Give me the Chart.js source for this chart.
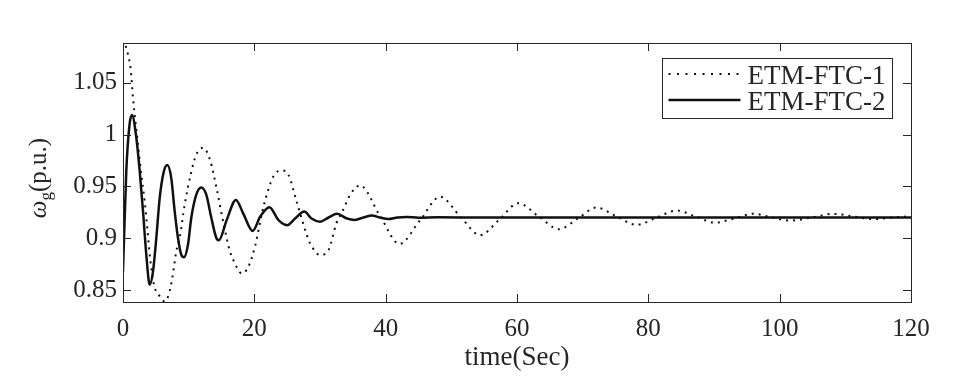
<!DOCTYPE html>
<html>
<head>
<meta charset="utf-8">
<script src="https://cdn.jsdelivr.net/npm/chart.js@4"></script>
<style>
  html, body { margin: 0; padding: 0; background: #ffffff; }
  #wrap { width: 977px; height: 380px; }
</style>
</head>
<body>
<div id="wrap"><canvas id="c" width="977" height="380"></canvas></div>
<script>
// ---- Data ----
const seriesNames = ['ETM-FTC-1', 'ETM-FTC-2'];

// ETM-FTC-1 (dotted)
const timeFTC1 = [0, 0.35, 0.76, 1.17, 1.52, 2.28, 2.79, 3.3, 3.7, 4.07, 4.72, 5.59, 6.35, 6.96, 7.51, 8.12, 8.63, 9.4, 10.31, 11.16, 12.2,
  13.25, 14.3, 15.3, 16.3, 16.8, 18.1, 19.1, 20.1, 21.4, 22.9, 24.2, 25.2, 26.5, 28.0, 28.5, 30.0, 31.3, 32.5, 33.5, 34.6, 36.1,
  39.1, 42.1, 45.2, 48.3, 51.35, 54.4, 57.3, 60.2, 63.3, 66.4, 69.25, 72.1, 75.15, 78.2, 81.25, 84.3, 87.2, 90.1, 93.05, 96.0,
  98.8, 101.6, 104.9, 108.2, 111.25, 114.3, 117.2, 120];
const omegaFTC1 = [1.092, 1.0866, 1.0776, 1.063, 1.0357, 0.9905, 0.9615, 0.9358, 0.910, 0.884, 0.855, 0.844, 0.839, 0.8455, 0.8616, 0.8874, 0.9003, 0.9325, 0.9615, 0.9808, 0.9873,
  0.9757, 0.9467, 0.9145, 0.887, 0.879, 0.866, 0.8725, 0.892, 0.9306, 0.9596, 0.9654, 0.9612, 0.934, 0.903, 0.895, 0.8838, 0.8887, 0.9145, 0.927, 0.942, 0.951,
  0.922, 0.8945, 0.917, 0.940, 0.921, 0.903, 0.918, 0.9338, 0.921, 0.9087, 0.919, 0.9296, 0.921, 0.9129, 0.920, 0.9267, 0.921, 0.915, 0.919, 0.9236,
  0.920, 0.917, 0.920, 0.9235, 0.921, 0.9184, 0.920, 0.9212];

// ETM-FTC-2 (solid)
const timeFTC2 = [0, 0.5, 1.0, 1.37, 2.03, 2.54, 3.05, 3.55, 4.07, 4.57, 5.07, 5.59, 6.2, 6.75, 7.35, 7.87, 8.38, 8.88, 9.29, 9.9, 10.4, 11.16, 11.92,
  12.68, 13.45, 14.2, 14.6, 15.8, 17.2, 18.3, 19.75, 20.9, 22.3, 23.65, 25.0, 26.2, 27.6, 28.7, 30.0, 31.3, 32.6, 34.1, 35.3, 36.6,
  37.9, 39.1, 40.4, 41.8, 43.2, 45, 48, 55, 120];
const omegaFTC2 = [0.868, 0.965, 1.01, 1.019, 0.997, 0.965, 0.926, 0.884, 0.855, 0.868, 0.900, 0.939, 0.964, 0.9706, 0.958, 0.926, 0.900, 0.884, 0.8816, 0.894, 0.9197, 0.942, 0.949,
  0.942, 0.9197, 0.9005, 0.898, 0.9177, 0.937, 0.924, 0.907, 0.921, 0.930, 0.9177, 0.9126, 0.919, 0.9257, 0.919, 0.916, 0.920, 0.9235, 0.919, 0.9177, 0.920,
  0.922, 0.920, 0.9185, 0.920, 0.9205, 0.9198, 0.9202, 0.920, 0.920];

const xTickValues = [0, 20, 40, 60, 80, 100, 120];
const yTickValues = [0.85, 0.9, 0.95, 1, 1.05];
const yTickLabels = ['0.85', '0.9', '0.95', '1', '1.05'];
const xMin = 0, xMax = 120, yMin = 0.8384, yMax = 1.0885;
const xTitle = 'time(Sec)';
const yTitleParts = ['ω', 'g', '(p.u.)'];

// ---- Styling ----
const FONT = '"Liberation Serif", "Times New Roman", serif';
const AXC = '#262626';

const framePlugin = {
  id: 'matlabFrame',
  afterDatasetsDraw(chart) {
    const { ctx, chartArea: ca, scales } = chart;
    const xs = scales.x, ys = scales.y;
    ctx.save();
    ctx.strokeStyle = AXC;
    ctx.lineWidth = 1;
    const tl = 8;
    ctx.beginPath();
    xs.ticks.forEach(t => {
      const px = Math.round(xs.getPixelForValue(t.value)) + 0.5;
      ctx.moveTo(px, ca.bottom); ctx.lineTo(px, ca.bottom - tl);
      ctx.moveTo(px, ca.top); ctx.lineTo(px, ca.top + tl);
    });
    ys.ticks.forEach(t => {
      const py = Math.round(ys.getPixelForValue(t.value)) + 0.5;
      ctx.moveTo(ca.left, py); ctx.lineTo(ca.left + tl, py);
      ctx.moveTo(ca.right, py); ctx.lineTo(ca.right - tl, py);
    });
    ctx.stroke();
    ctx.strokeRect(Math.round(ca.left) + 0.5, Math.round(ca.top) + 0.5,
      Math.round(ca.right - ca.left), Math.round(ca.bottom - ca.top));

    // legend box (inside top-right of the axes)
    const bw = 230, bh = 60;
    const bx = Math.round(ca.right - 19 - bw) + 0.5, by = Math.round(ca.top + 15) + 0.5;
    ctx.fillStyle = '#ffffff';
    ctx.fillRect(bx, by, bw, bh);
    ctx.strokeStyle = AXC;
    ctx.lineWidth = 1;
    ctx.strokeRect(bx, by, bw, bh);
    const ds = chart.data.datasets;
    const rows = [by + 15.5, by + 41.5];
    ds.forEach((d, i) => {
      ctx.save();
      ctx.strokeStyle = d.borderColor;
      ctx.lineWidth = d.borderWidth;
      ctx.setLineDash(i === 0 ? [2, 6.5] : []);
      ctx.beginPath();
      ctx.moveTo(bx + 6, rows[i]);
      ctx.lineTo(bx + 78, rows[i]);
      ctx.stroke();
      ctx.restore();
      ctx.fillStyle = AXC;
      ctx.font = '27px ' + FONT;
      ctx.textAlign = 'left';
      ctx.textBaseline = 'alphabetic';
      ctx.fillText(d.label, bx + 85, rows[i] + 10);
    });

    // y axis title: omega with subscript g
    ctx.save();
    ctx.translate(46, 178);
    ctx.rotate(-Math.PI / 2);
    ctx.fillStyle = AXC;
    ctx.textBaseline = 'alphabetic';
    ctx.textAlign = 'left';
    const f1 = 'italic 25px ' + FONT, f2 = '17px ' + FONT, f3 = '25px ' + FONT;
    ctx.font = f1; const w1 = ctx.measureText(yTitleParts[0]).width;
    ctx.font = f2; const w2 = ctx.measureText(yTitleParts[1]).width;
    ctx.font = f3; const w3 = ctx.measureText(yTitleParts[2]).width;
    let sx = -(w1 + w2 + w3) / 2;
    ctx.font = f1; ctx.fillText(yTitleParts[0], sx, 0); sx += w1;
    ctx.font = f2; ctx.fillText(yTitleParts[1], sx, 5); sx += w2;
    ctx.font = f3; ctx.fillText(yTitleParts[2], sx, 0);
    ctx.restore();
    ctx.restore();
  }
};

const toPoints = (ts, vs) => ts.map((t, i) => ({ x: t, y: vs[i] }));

new Chart(document.getElementById('c'), {
  type: 'line',
  data: {
    datasets: [
      {
        label: seriesNames[0],
        data: toPoints(timeFTC1, omegaFTC1),
        borderColor: '#111111',
        borderWidth: 2,
        borderDash: [2, 5],
        pointRadius: 0,
        fill: false,
        cubicInterpolationMode: 'monotone'
      },
      {
        label: seriesNames[1],
        data: toPoints(timeFTC2, omegaFTC2),
        borderColor: '#111111',
        borderWidth: 2.5,
        pointRadius: 0,
        fill: false,
        cubicInterpolationMode: 'monotone'
      }
    ]
  },
  options: {
    responsive: false,
    animation: false,
    devicePixelRatio: 1,
    layout: { padding: { left: 0, right: 66, top: 43, bottom: 0 } },
    plugins: { legend: { display: false }, tooltip: { enabled: false } },
    scales: {
      x: {
        type: 'linear',
        min: xMin, max: xMax,
        grid: { display: false, drawTicks: false },
        border: { display: false },
        afterBuildTicks: s => { s.ticks = xTickValues.map(v => ({ value: v })); },
        afterFit: s => { s.height = 78; },
        ticks: {
          autoSkip: false, maxRotation: 0, padding: 12,
          color: AXC, font: { family: FONT, size: 25 },
          callback: v => String(v)
        },
        title: {
          display: true, text: xTitle, color: AXC,
          font: { family: FONT, size: 27 },
          padding: { top: 0, bottom: 6 }
        }
      },
      y: {
        type: 'linear',
        min: yMin, max: yMax,
        grid: { display: false, drawTicks: false },
        border: { display: false },
        afterBuildTicks: s => { s.ticks = yTickValues.map(v => ({ value: v })); },
        afterFit: s => { s.width = 123; },
        ticks: {
          autoSkip: false, padding: 6,
          color: AXC, font: { family: FONT, size: 25 },
          callback: v => { const i = yTickValues.indexOf(v); return i >= 0 ? yTickLabels[i] : ''; }
        }
      }
    }
  },
  plugins: [framePlugin]
});
</script>
</body>
</html>
